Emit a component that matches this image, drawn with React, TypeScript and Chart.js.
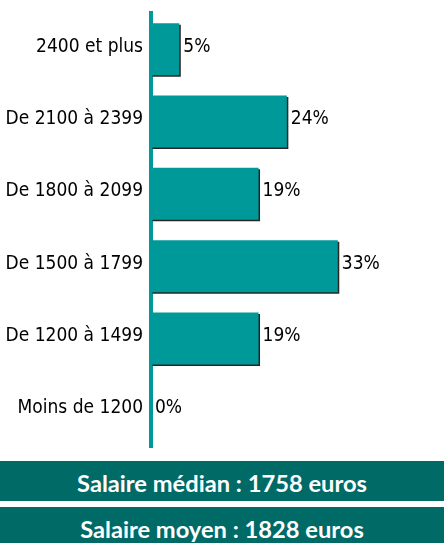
import React, { useEffect, useRef } from "react";
import { Chart, registerables } from "chart.js";

Chart.register(...registerables);

const categories = ["2400 et plus", "De 2100 à 2399", "De 1800 à 2099", "De 1500 à 1799", "De 1200 à 1499", "Moins de 1200"];
const percentages = [5, 24, 19, 33, 19, 0];
const bannerLines = ["Salaire médian : 1758 euros", "Salaire moyen : 1828 euros"];

const TEAL = "#009999";
const DARK = "#006A67";
const FONT = "'DejaVu Sans Condensed', 'DejaVu Sans', sans-serif";
const FSIZE = 19;

const valueLabels = {
  id: "valueLabels",
  afterDatasetsDraw(chart: any) {
    const ctx = chart.ctx;
    const meta = chart.getDatasetMeta(0);
    ctx.save();
    ctx.font = `${FSIZE}px ${FONT}`;
    ctx.fillStyle = "#000";
    ctx.textAlign = "left";
    ctx.textBaseline = "middle";
    meta.data.forEach((bar: any, i: number) => {
      ctx.fillText(`${percentages[i]}%`, bar.x + 4, bar.y - 2.5);
    });
    ctx.restore();
  },
};

const barShadow = {
  id: "barShadow",
  beforeDatasetsDraw(chart: any) {
    const ctx = chart.ctx;
    ctx.save();
    ctx.shadowColor = "rgba(0,0,0,0.85)";
    ctx.shadowOffsetX = 1.5;
    ctx.shadowOffsetY = 1.5;
    ctx.shadowBlur = 0;
  },
  afterDatasetsDraw(chart: any) {
    chart.ctx.restore();
  },
};

export default function App() {
  const ref = useRef<HTMLCanvasElement>(null);

  useEffect(() => {
    document.body.style.margin = "0";
    const chart = new Chart(ref.current!, {
      type: "bar",
      data: {
        labels: categories,
        datasets: [
          {
            data: percentages,
            backgroundColor: TEAL,
            borderWidth: 0,
            barPercentage: 0.72,
            categoryPercentage: 1,
          },
        ],
      },
      options: {
        indexAxis: "y",
        animation: false,
        responsive: false,
        maintainAspectRatio: false,
        layout: { padding: { top: 13, bottom: 8, right: 10, left: 0 } },
        plugins: { legend: { display: false }, tooltip: { enabled: false } },
        scales: {
          x: { display: false, min: 0, max: 50 },
          y: {
            grid: { display: false, drawTicks: false },
            border: { display: true, color: TEAL, width: 4 },
            ticks: { color: "#000", font: { family: FONT, size: FSIZE }, padding: 8, labelOffset: -2.5 },
            afterFit(scale: any) {
              scale.width = 151;
              scale.paddingTop = 0;
              scale.paddingBottom = 0;
            },
          },
        },
      },
      plugins: [barShadow, valueLabels],
    });
    return () => chart.destroy();
  }, []);

  return (
    <div style={{ width: 444, height: 543, position: "relative", background: "#fff", overflow: "hidden" }}>
      <canvas ref={ref} width={444} height={455} style={{ display: "block" }} />
      {bannerLines.map((t, i) => (
        <div
          key={i}
          style={{
            position: "absolute",
            left: 0,
            width: 444,
            top: i === 0 ? 461 : 507,
            height: 40,
            background: DARK,
            color: "#fff",
            fontFamily: "Lato, 'Open Sans', sans-serif",
            fontWeight: 700,
            fontSize: 23.7,
            lineHeight: "45px",
            textAlign: "center",
          }}
        >
          {t}
        </div>
      ))}
    </div>
  );
}
